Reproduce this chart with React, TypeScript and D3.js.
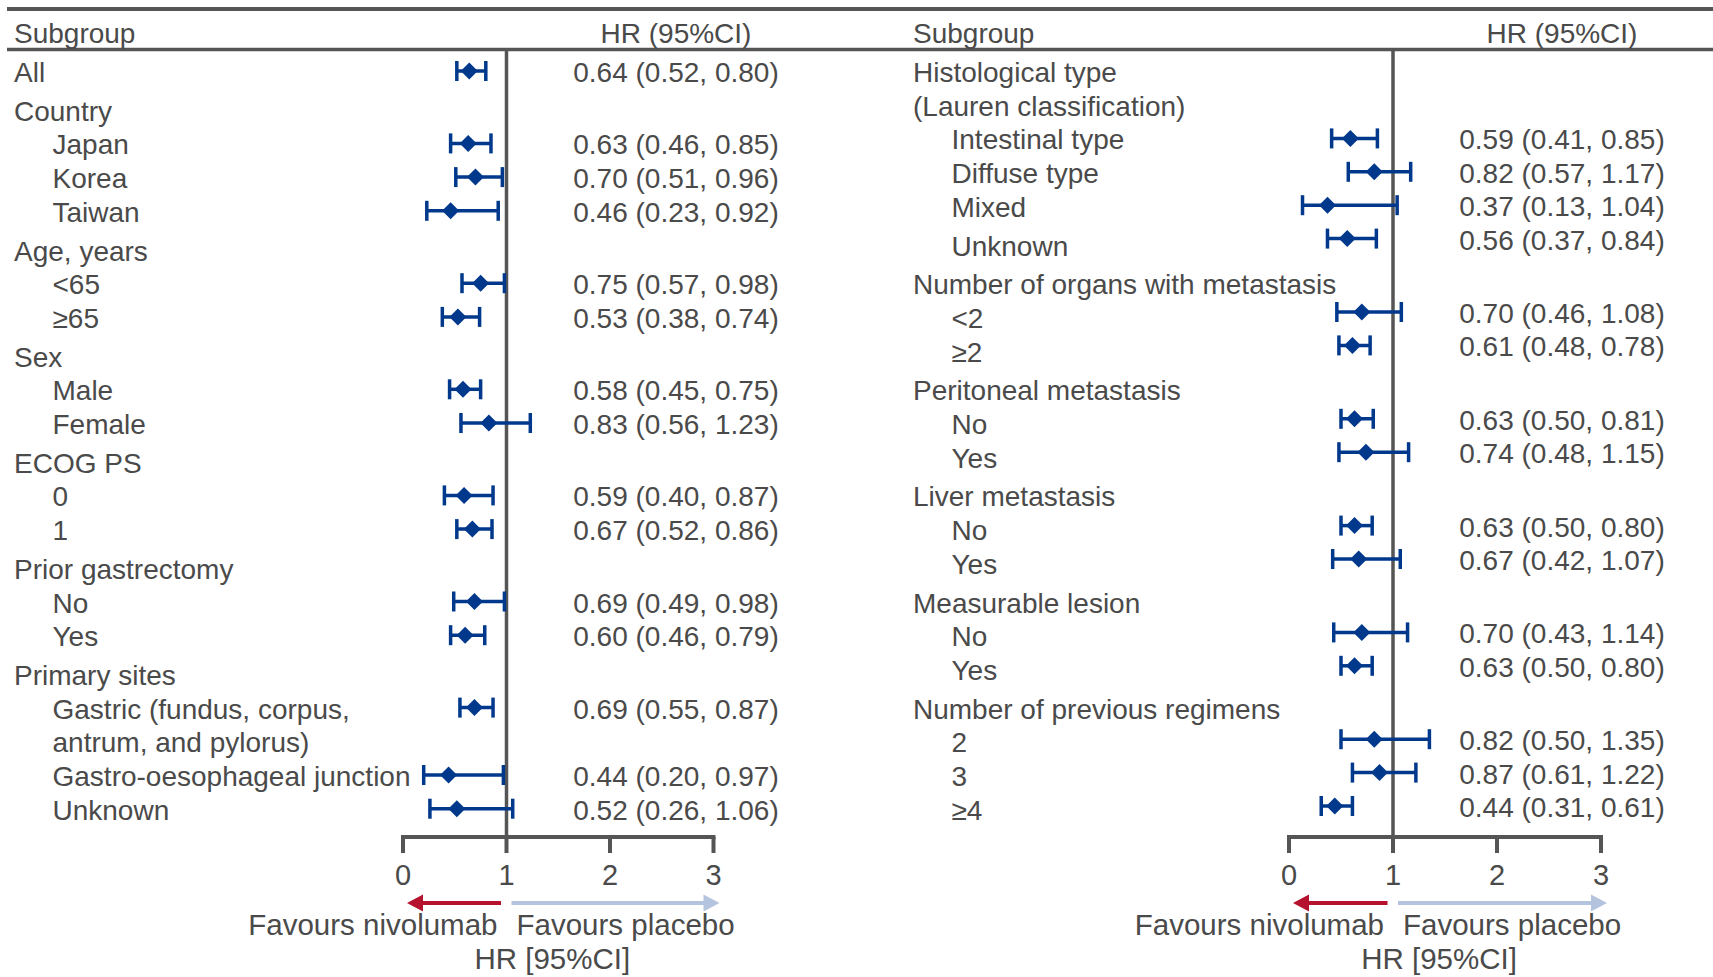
import React from "react";
import * as d3 from "d3";

// left panel
const leftLabels = ["All", "Country", "Japan", "Korea", "Taiwan", "Age, years", "<65", "≥65", "Sex", "Male", "Female", "ECOG PS", "0", "1", "Prior gastrectomy", "No", "Yes", "Primary sites", "Gastric (fundus, corpus,", "antrum, and pylorus)", "Gastro-oesophageal junction", "Unknown"];
const leftKinds = ["dhead", "head", "item", "item", "item", "head", "item", "item", "head", "item", "item", "head", "item", "item", "head", "item", "item", "head", "item", "item2", "item", "item"];
const leftHR = [0.64, 0.63, 0.70, 0.46, 0.75, 0.53, 0.58, 0.83, 0.59, 0.67, 0.69, 0.60, 0.69, 0.44, 0.52];
const leftLow = [0.52, 0.46, 0.51, 0.23, 0.57, 0.38, 0.45, 0.56, 0.40, 0.52, 0.49, 0.46, 0.55, 0.20, 0.26];
const leftHigh = [0.80, 0.85, 0.96, 0.92, 0.98, 0.74, 0.75, 1.23, 0.87, 0.86, 0.98, 0.79, 0.87, 0.97, 1.06];

// right panel
const rightLabels = ["Histological type", "(Lauren classification)", "Intestinal type", "Diffuse type", "Mixed", "Unknown", "Number of organs with metastasis", "<2", "≥2", "Peritoneal metastasis", "No", "Yes", "Liver metastasis", "No", "Yes", "Measurable lesion", "No", "Yes", "Number of previous regimens", "2", "3", "≥4"];
const rightKinds = ["head", "head2", "item", "item", "item", "item", "head", "item", "item", "head", "item", "item", "head", "item", "item", "head", "item", "item", "head", "item", "item", "item"];
const rightHR = [0.59, 0.82, 0.37, 0.56, 0.70, 0.61, 0.63, 0.74, 0.63, 0.67, 0.70, 0.63, 0.82, 0.87, 0.44];
const rightLow = [0.41, 0.57, 0.13, 0.37, 0.46, 0.48, 0.50, 0.48, 0.50, 0.42, 0.43, 0.50, 0.50, 0.61, 0.31];
const rightHigh = [0.85, 1.17, 1.04, 0.84, 1.08, 0.78, 0.81, 1.15, 0.80, 1.07, 1.14, 0.80, 1.35, 1.22, 0.61];

const ticks = [0, 1, 2, 3];

const W = 1713, H = 977;
const FONT = '"Liberation Sans", Arial, Helvetica, sans-serif';
const FS = 28;
const FS_AXIS = 29.5;
const TEXT = "#4a4a4a";
const LINE = "#555555";
const BLUE = "#00388c";
const RED = "#b5122d";
const PALE = "#b4c4de";

const firstY = 72;
const itemStep = 33.7;
const headStep = 38.7;
const axisY = 837;

const fmt = (v: number) => v.toFixed(2);

function layoutRows(labels: string[], kinds: string[], extraGap: number[]) {
  let y = firstY;
  return labels.map((label, i) => {
    const k = kinds[i];
    if (i > 0) y += (k === "head" || extraGap.includes(i)) ? headStep : itemStep;
    return { label, kind: k, y };
  });
}

function Panel({ labels, kinds, hr, low, high, labelX, range, valueX, columnValues, extraGap }: any) {
  const x = d3.scaleLinear().domain([0, 3]).range(range);
  const rows = layoutRows(labels, kinds, extraGap);
  const dataRows = rows.filter(r => r.kind === "item" || r.kind === "dhead");

  // value column y: aligned to labels, or laid out as its own block (right panel)
  let valueYs = dataRows.map(r => r.y);
  if (columnValues) {
    let y = dataRows[0].y;
    let prevIdx = rows.indexOf(dataRows[0]);
    valueYs = dataRows.map((r, i) => {
      const idx = rows.indexOf(r);
      if (i > 0) {
        const newGroup = rows.slice(prevIdx + 1, idx).some(q => q.kind === "head");
        y += newGroup ? 73.4 : 33.4;
      }
      prevIdx = idx;
      return y;
    });
  }
  const x1 = x(1);

  return (
    <g>
      {rows.map((r, i) => (
        <text key={"l" + i} x={labelX + (r.kind.startsWith("item") ? 38.5 : 0)} y={r.y} dy="0.36em"
          fontSize={FS} fill={TEXT}>{r.label}</text>
      ))}
      <text x={labelX} y={33} dy="0.36em" fontSize={FS} fill={TEXT}>Subgroup</text>
      <text x={valueX} y={33} dy="0.36em" fontSize={FS} fill={TEXT} textAnchor="middle">HR (95%CI)</text>

      {/* reference line at HR = 1 */}
      <line x1={x1} x2={x1} y1={51} y2={axisY} stroke={LINE} strokeWidth={3.5} />

      {dataRows.map((r, i) => {
        const y = valueYs[i] - 1;
        return (
          <g key={"d" + i}>
            <line x1={x(low[i])} x2={x(high[i])} y1={y} y2={y} stroke={BLUE} strokeWidth={3.5} />
            <line x1={x(low[i])} x2={x(low[i])} y1={y - 10} y2={y + 10} stroke={BLUE} strokeWidth={3.5} />
            <line x1={x(high[i])} x2={x(high[i])} y1={y - 10} y2={y + 10} stroke={BLUE} strokeWidth={3.5} />
            <path d={`M${x(hr[i]) - 8.5},${y} L${x(hr[i])},${y - 8.5} L${x(hr[i]) + 8.5},${y} L${x(hr[i])},${y + 8.5} Z`} fill={BLUE} />
            <text x={valueX} y={valueYs[i]} dy="0.36em" fontSize={FS} fill={TEXT} textAnchor="middle">
              {`${fmt(hr[i])} (${fmt(low[i])}, ${fmt(high[i])})`}
            </text>
          </g>
        );
      })}

      {/* axis */}
      <line x1={x(0) - 2} x2={x(3) + 2} y1={axisY} y2={axisY} stroke={LINE} strokeWidth={4} />
      {ticks.map(t => (
        <g key={"t" + t}>
          <line x1={x(t)} x2={x(t)} y1={axisY} y2={axisY + 16} stroke={LINE} strokeWidth={4} />
          <text x={x(t)} y={885} fontSize={29} fill={TEXT} textAnchor="middle">{t}</text>
        </g>
      ))}

      {/* direction arrows */}
      <line x1={x1 - 5.5} x2={x(0) + 18} y1={903} y2={903} stroke={RED} strokeWidth={4} />
      <path d={`M${x(0) + 4},903 L${x(0) + 20},894.5 L${x(0) + 20},911.5 Z`} fill={RED} />
      <line x1={x1 + 5} x2={x(3) - 8} y1={903} y2={903} stroke={PALE} strokeWidth={4} />
      <path d={`M${x(3) + 6},903 L${x(3) - 10},894.5 L${x(3) - 10},911.5 Z`} fill={PALE} />
      <text x={x1 - 9} y={935} fontSize={FS_AXIS} fill={TEXT} textAnchor="end">Favours nivolumab</text>
      <text x={x1 + 10} y={935} fontSize={FS_AXIS} fill={TEXT}>Favours placebo</text>
      <text x={x(1.5) - 6} y={969} fontSize={FS_AXIS} fill={TEXT} textAnchor="middle">HR [95%CI]</text>
    </g>
  );
}

export default function App() {
  return (
    <svg width={W} height={H} style={{ position: "absolute", left: 0, top: 0, background: "#fff" }}
      fontFamily={FONT}>
      <rect width={W} height={H} fill="#fff" />
      <line x1={7} x2={W} y1={9} y2={9} stroke={LINE} strokeWidth={4} />
      <line x1={7} x2={W} y1={49.5} y2={49.5} stroke={LINE} strokeWidth={3.5} />
      <Panel labels={leftLabels} kinds={leftKinds} hr={leftHR} low={leftLow} high={leftHigh}
        labelX={14} range={[403, 713.5]} valueX={676} columnValues={false} extraGap={[]} />
      <Panel labels={rightLabels} kinds={rightKinds} hr={rightHR} low={rightLow} high={rightHigh}
        labelX={913} range={[1289, 1601]} valueX={1562} columnValues={true} extraGap={[5]} />
    </svg>
  );
}
